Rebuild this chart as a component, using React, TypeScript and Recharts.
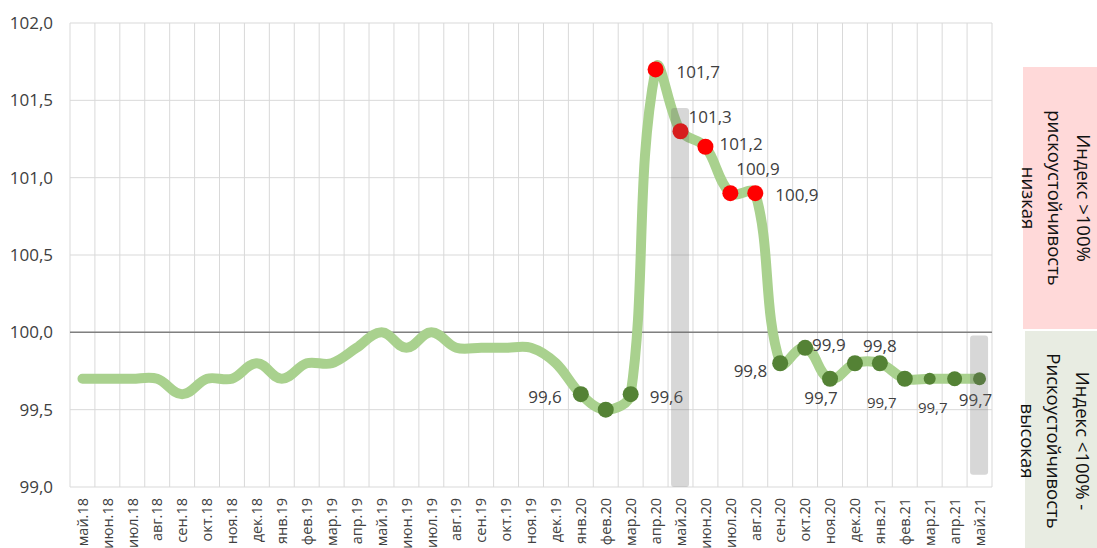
import React from 'react';
import {
  ComposedChart,
  Line,
  Bar,
  XAxis,
  YAxis,
  CartesianGrid,
  ReferenceLine,
  LabelList,
} from 'recharts';

// ---------- data ----------
const months = [
  'май.18', 'июн.18', 'июл.18', 'авг.18', 'сен.18', 'окт.18', 'ноя.18', 'дек.18',
  'янв.19', 'фев.19', 'мар.19', 'апр.19', 'май.19', 'июн.19', 'июл.19', 'авг.19',
  'сен.19', 'окт.19', 'ноя.19', 'дек.19', 'янв.20', 'фев.20', 'мар.20', 'апр.20',
  'май.20', 'июн.20', 'июл.20', 'авг.20', 'сен.20', 'окт.20', 'ноя.20', 'дек.20',
  'янв.21', 'фев.21', 'мар.21', 'апр.21', 'май.21',
];

const indexValues = [
  99.7, 99.7, 99.7, 99.7, 99.6, 99.7, 99.7, 99.8,
  99.7, 99.8, 99.8, 99.9, 100.0, 99.9, 100.0, 99.9,
  99.9, 99.9, 99.9, 99.8, 99.6, 99.5, 99.6, 101.7,
  101.3, 101.2, 100.9, 100.9, 99.8, 99.9, 99.7, 99.8,
  99.8, 99.7, 99.7, 99.7, 99.7,
];

const redMonths = ['апр.20', 'май.20', 'июн.20', 'июл.20', 'авг.20'];
const greenMonths = [
  'янв.20', 'фев.20', 'мар.20', 'сен.20', 'окт.20', 'ноя.20', 'дек.20',
  'янв.21', 'фев.21', 'мар.21', 'апр.21', 'май.21',
];

// gray highlight ranges
const highlightMonths = ['май.20', 'май.21'];
const highlightLow = [99.0, 99.08];
const highlightHigh = [101.45, 99.98];

const yTicks = [99.0, 99.5, 100.0, 100.5, 101.0, 101.5, 102.0];

const labeledMonths = [
  'янв.20', 'мар.20', 'апр.20', 'май.20', 'июн.20', 'июл.20', 'авг.20',
  'сен.20', 'окт.20', 'ноя.20', 'янв.21', 'фев.21', 'мар.21', 'май.21',
];

// ---------- styles ----------
const FONT = '"Open Sans", "DejaVu Sans", sans-serif';
const TEXT = '#404040';
const MARGIN = { top: 23, right: 105, left: 0, bottom: 0 };

const dotRadius: Record<string, number> = { 'мар.21': 6, 'апр.21': 7.5, 'май.21': 6.5 };

const labelPlacement: Record<string, { dx: number; dy: number; anchor: 'start' | 'middle' | 'end'; size?: number }> = {
  'янв.20': { dx: -19, dy: 2, anchor: 'end' },
  'мар.20': { dx: 19, dy: 2, anchor: 'start' },
  'апр.20': { dx: 21, dy: 2, anchor: 'start' },
  'май.20': { dx: 8, dy: -15, anchor: 'start' },
  'июн.20': { dx: 14, dy: -3, anchor: 'start' },
  'июл.20': { dx: 6, dy: -25, anchor: 'start' },
  'авг.20': { dx: 20, dy: 1, anchor: 'start' },
  'сен.20': { dx: -13, dy: 7, anchor: 'end' },
  'окт.20': { dx: 7, dy: -3, anchor: 'start' },
  'ноя.20': { dx: -9, dy: 19, anchor: 'middle' },
  'янв.21': { dx: 0, dy: -18, anchor: 'middle' },
  'фев.21': { dx: -23, dy: 23, anchor: 'middle', size: 15 },
  'мар.21': { dx: 3, dy: 28, anchor: 'middle', size: 15 },
  'май.21': { dx: -4, dy: 21, anchor: 'middle' },
};

const data = months.map((m, i) => {
  const h = highlightMonths.indexOf(m);
  return {
    m,
    v: indexValues[i],
    hl: h >= 0 ? [highlightLow[h], highlightHigh[h]] : null,
  };
});

// Excel-like smoothed line: tangent from neighbours, handle length scaled by the segment's chord
function excelCurve(context: any) {
  let pts: [number, number][] = [];
  const tangent = (i: number) => {
    const a = pts[i - 1] || pts[i];
    const b = pts[i + 1] || pts[i];
    const dx = b[0] - a[0];
    const dy = b[1] - a[1];
    const len = Math.hypot(dx, dy) || 1;
    return [dx / len, dy / len];
  };
  return {
    areaStart() {},
    areaEnd() {},
    lineStart() {
      pts = [];
    },
    point(x: number, y: number) {
      pts.push([+x, +y]);
    },
    lineEnd() {
      const n = pts.length;
      if (!n) return;
      context.moveTo(pts[0][0], pts[0][1]);
      const k = 1 / 3;
      for (let i = 0; i < n - 1; i++) {
        const p1 = pts[i];
        const p2 = pts[i + 1];
        const chord = Math.hypot(p2[0] - p1[0], p2[1] - p1[1]);
        const t1 = tangent(i);
        const t2 = tangent(i + 1);
        context.bezierCurveTo(
          p1[0] + t1[0] * chord * k,
          p1[1] + t1[1] * chord * k,
          p2[0] - t2[0] * chord * k,
          p2[1] - t2[1] * chord * k,
          p2[0],
          p2[1],
        );
      }
    },
  };
}

const renderDot = (props: any) => {
  const { cx, cy, index } = props;
  const m = months[index];
  const color = redMonths.includes(m) ? '#ff0000' : greenMonths.includes(m) ? '#548235' : null;
  if (!color || cx == null || cy == null) return <g key={`d${index}`} />;
  return <circle key={`d${index}`} cx={cx} cy={cy} r={dotRadius[m] ?? 8} fill={color} />;
};

const renderLabel = (props: any) => {
  const { x, y, value, index } = props;
  const m = months[index];
  if (!labeledMonths.includes(m)) return null;
  const p = labelPlacement[m];
  if (!p) return null;
  return (
    <text
      x={x + p.dx}
      y={y + p.dy}
      textAnchor={p.anchor}
      dominantBaseline="central"
      fontSize={p.size ?? 17}
      fontFamily={FONT}
      fill={TEXT}
    >
      {Number(value).toFixed(1).replace('.', ',')}
    </text>
  );
};

const XTick = (props: any) => {
  const { x, y, payload } = props;
  return (
    <text
      transform={`translate(${x},${y + 3}) rotate(-90)`}
      textAnchor="end"
      dy="0.36em"
      fontSize={14.5}
      fontFamily={FONT}
      fill={TEXT}
    >
      {payload.value}
    </text>
  );
};

const gridGen = ({ offset }: any) =>
  Array.from({ length: months.length + 1 }, (_, i) => offset.left + (i * offset.width) / months.length);

const boxLinesTop = ['Индекс >100%', 'рискоустойчивость', 'низкая'];
const boxLinesBottom = ['Индекс <100% -', 'Рискоустойчивость', 'высокая'];
const boxLineX = [1077, 1048, 1022];

export default function App() {
  return (
    <div style={{ position: 'absolute', left: 0, top: 0, width: 1097, height: 548, background: '#fff' }}>
      <div style={{ position: 'absolute', left: 0, top: 0 }}>
        <ComposedChart width={1097} height={548} data={data} margin={MARGIN}>
          <CartesianGrid stroke="#d9d9d9" strokeWidth={1} verticalCoordinatesGenerator={gridGen} />
          <XAxis
            dataKey="m"
            interval={0}
            height={61}
            axisLine={false}
            tickLine={false}
            tick={<XTick />}
          />
          <YAxis
            width={70}
            domain={[99, 102]}
            ticks={yTicks}
            allowDataOverflow
            axisLine={false}
            tickLine={false}
            tickMargin={11}
            tick={{ fontSize: 17, fill: TEXT, fontFamily: FONT }}
            tickFormatter={(v: number) => v.toFixed(1).replace('.', ',')}
          />
          {/* invisible bar series keeps the category axis in band mode (points centred in cells) */}
          <Bar dataKey="hl" barSize={18} fill="#ffffff" fillOpacity={0} isAnimationActive={false} />
          <ReferenceLine y={100} stroke="#808080" strokeWidth={1.5} />
          <Line
            dataKey="v"
            type={excelCurve as any}
            stroke="#a9d18e"
            strokeWidth={10}
            strokeLinecap="round"
            strokeLinejoin="round"
            dot={renderDot}
            activeDot={false}
            isAnimationActive={false}
          >
            <LabelList dataKey="v" content={renderLabel} />
          </Line>
        </ComposedChart>
      </div>
      {/* translucent highlight bars drawn on top of the line */}
      <div style={{ position: 'absolute', left: 0, top: 0, pointerEvents: 'none' }}>
        <ComposedChart width={1097} height={548} data={data} margin={MARGIN}>
          <XAxis dataKey="m" interval={0} height={61} axisLine={false} tickLine={false} tick={false} />
          <YAxis width={70} domain={[99, 102]} ticks={yTicks} allowDataOverflow axisLine={false} tickLine={false} tick={false} />
          <Bar
            dataKey="hl"
            barSize={18}
            fill="#6b6b6b"
            fillOpacity={0.27}
            radius={3}
            isAnimationActive={false}
          />
        </ComposedChart>
      </div>
      <svg
        width={1097}
        height={548}
        style={{ position: 'absolute', left: 0, top: 0, pointerEvents: 'none' }}
      >
        <rect x={1023} y={67} width={80} height={262} fill="#ffd9d9" />
        <rect x={1025} y={331} width={80} height={217} fill="#e8ece2" />
        {boxLinesTop.map((t, i) => (
          <text
            key={`t${i}`}
            transform={`translate(${boxLineX[i]},198) rotate(90)`}
            textAnchor="middle"
            fontSize={18.5}
            fontFamily={FONT}
            fill="#111"
          >
            {t}
          </text>
        ))}
        {boxLinesBottom.map((t, i) => (
          <text
            key={`b${i}`}
            transform={`translate(${boxLineX[i] - 1},441) rotate(90)`}
            textAnchor="middle"
            fontSize={18.5}
            fontFamily={FONT}
            fill="#111"
          >
            {t}
          </text>
        ))}
      </svg>
    </div>
  );
}
